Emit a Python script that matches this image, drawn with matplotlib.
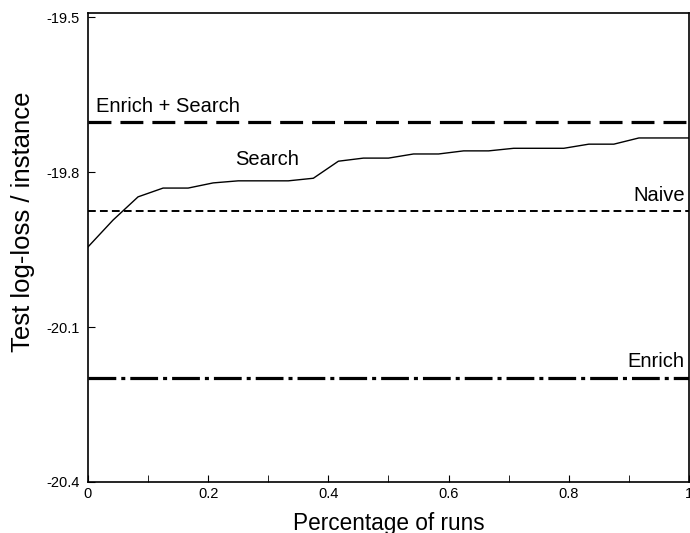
"""Test log-loss per instance vs. percentage of runs (Naive / Search / Enrich / Enrich + Search)."""

import matplotlib

matplotlib.use("Agg")
import matplotlib.pyplot as plt
from matplotlib.ticker import MultipleLocator

plt.rcParams["font.family"] = ["Liberation Sans", "DejaVu Sans"]
plt.rcParams["lines.scale_dashes"] = False

# Search curve, sampled at 25 evenly spaced run fractions
SEARCH_X = [i / 24 for i in range(25)]
SEARCH_Y = [
    -19.945, -19.893, -19.848, -19.831, -19.831, -19.821, -19.817, -19.817,
    -19.817, -19.812, -19.779, -19.773, -19.773, -19.765, -19.765, -19.759,
    -19.759, -19.754, -19.754, -19.754, -19.746, -19.746, -19.734, -19.734,
    -19.734,
]

# constant baselines
ENRICH_SEARCH = -19.703
NAIVE = -19.875
ENRICH = -20.198

Y_TICKS = [-19.5, -19.8, -20.1, -20.4]
X_TICKS = [0, 0.2, 0.4, 0.6, 0.8, 1]


def plot() -> None:
    fig = plt.figure(figsize=(6.9, 5.33), dpi=100)
    ax = fig.add_axes([0.1275, 0.0957, 0.871, 0.88])

    ax.axhline(ENRICH_SEARCH, color="black", linewidth=2.3, dashes=(16.5, 6.5))
    ax.axhline(NAIVE, color="black", linewidth=1.4, dashes=(5.6, 3.0))
    ax.axhline(ENRICH, color="black", linewidth=2.3, dashes=(20, 3.6, 2.9, 3.6))
    ax.plot(SEARCH_X, SEARCH_Y, color="black", linewidth=1.0)

    fs = 14.5
    ax.text(0.014, ENRICH_SEARCH + 0.012, "Enrich + Search", fontsize=fs, va="bottom", ha="left")
    ax.text(0.245, -19.795, "Search", fontsize=fs, va="bottom", ha="left")
    ax.text(0.993, NAIVE + 0.012, "Naive", fontsize=fs, va="bottom", ha="right")
    ax.text(0.993, ENRICH + 0.012, "Enrich", fontsize=fs, va="bottom", ha="right")

    ax.set_xlim(0, 1)
    ax.set_ylim(-20.4, -19.492)
    ax.set_xticks(X_TICKS)
    ax.set_xticklabels(["0", "0.2", "0.4", "0.6", "0.8", "1"])
    ax.xaxis.set_minor_locator(MultipleLocator(0.1))
    ax.set_yticks(Y_TICKS)
    ax.set_yticklabels(["-19.5", "-19.8", "-20.1", "-20.4"])
    ax.tick_params(axis="both", which="both", direction="in", labelsize=10.5)
    ax.tick_params(axis="both", which="major", length=5)
    ax.tick_params(axis="x", which="minor", length=5)
    ax.tick_params(axis="y", pad=6)

    ax.set_xlabel("Percentage of runs", fontsize=16.3, labelpad=8)
    ax.set_ylabel("Test log-loss / instance", fontsize=18.5)
    ax.yaxis.set_label_coords(-0.088, 0.554)

    for spine in ax.spines.values():
        spine.set_linewidth(1.2)

    fig.savefig("out.png", dpi=100)


if __name__ == "__main__":
    plot()
